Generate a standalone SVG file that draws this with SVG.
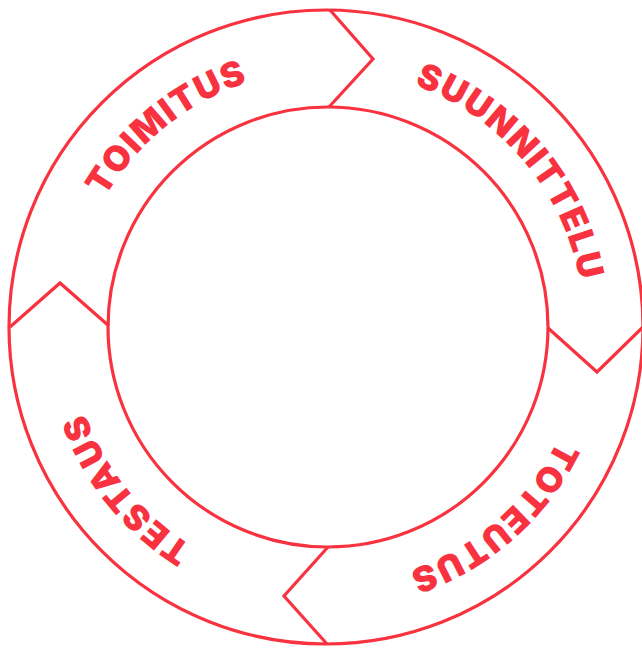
<svg xmlns="http://www.w3.org/2000/svg" width="642" height="648" viewBox="0 0 642 648">
<style>
.ln{fill:none;stroke:#f8323f;stroke-width:3.2;stroke-linejoin:miter}
.lb{font-family:Inter,"Liberation Sans",sans-serif;font-weight:900;font-size:35px;fill:#f8323f;letter-spacing:1.5px}
</style>
<defs>
<path id="arc" d="M70,327 A257,257 0 1 1 584,327 A257,257 0 1 1 70,327"/>
</defs>
<rect width="642" height="648" fill="#fff"/>
<g id="ring">
<circle class="ln" cx="326" cy="327" r="317"/>
<circle class="ln" cx="328" cy="327" r="220"/>
</g>
<g id="connectors">
<polyline class="ln" points="330,10 373,59 329,107"/>
<polyline class="ln" points="548,328 597,372 643,327"/>
<polyline class="ln" points="328,547 284,596 327,644"/>
<polyline class="ln" points="10,327 60,283 109,326"/>
</g>
<g id="toimitus"><text class="lb" text-anchor="middle"><textPath href="#arc" startOffset="230">TOIMITUS</textPath></text></g>
<g id="suunnittelu"><text class="lb" text-anchor="middle"><textPath href="#arc" startOffset="627">SUUNNITTELU</textPath></text></g>
<g id="toteutus"><text class="lb" text-anchor="middle"><textPath href="#arc" startOffset="1026">TOTEUTUS</textPath></text></g>
<g id="testaus"><text class="lb" text-anchor="middle"><textPath href="#arc" startOffset="1440">TESTAUS</textPath></text></g>
</svg>
